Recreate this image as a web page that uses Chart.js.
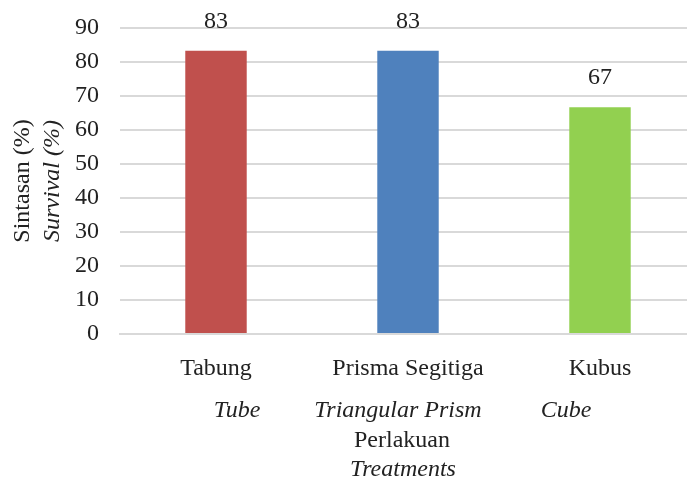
<!DOCTYPE html>
<html>
<head>
<meta charset="utf-8">
<script src="https://cdn.jsdelivr.net/npm/chart.js@4"></script>
<style>
  html, body { margin: 0; padding: 0; background: #fff; overflow: hidden; }
  #wrap { width: 687px; height: 481px; overflow: hidden; }
</style>
</head>
<body>
<div id="wrap"><canvas id="survChart" width="697" height="481"></canvas></div>
<script>
// data
var categories = ["Tabung", "Prisma Segitiga", "Kubus"];
var categoriesEn = ["Tube", "Triangular Prism", "Cube"];
var survival = [83.33, 83.33, 66.67];
var barColors = ["#C0504D", "#4F81BD", "#92D050"];
var yTicks = [0, 10, 20, 30, 40, 50, 60, 70, 80, 90];

var serif = "'Liberation Serif', 'Times New Roman', serif";
var ink = "#222222";
var fs = 24;

// extra texts: value labels, english category names, axis titles
var textPlugin = {
	id: 'texts',
	afterDraw: function (chart) {
		var ctx = chart.ctx;
		var xs = chart.scales.x;
		var area = chart.chartArea;
		ctx.save();
		ctx.fillStyle = ink;
		ctx.textAlign = 'center';
		ctx.textBaseline = 'alphabetic';

		// value labels above bars
		ctx.font = fs + "px " + serif;
		chart.getDatasetMeta(0).data.forEach(function (bar, i) {
			ctx.fillText(Math.round(survival[i]), bar.x, bar.y - 23);
		});

		// english category names, a bit shifted as in the original
		var shift = [21, -10, -34];
		ctx.font = "italic " + fs + "px " + serif;
		categoriesEn.forEach(function (t, i) {
			ctx.fillText(t, xs.getPixelForValue(i) + shift[i], 417);
		});

		// x axis title
		ctx.font = fs + "px " + serif;
		ctx.fillText("Perlakuan", 402, 447);
		ctx.font = "italic " + fs + "px " + serif;
		ctx.fillText("Treatments", 403, 476);

		// y axis title, two lines
		var midY = (area.top + area.bottom) / 2;
		ctx.translate(23, midY);
		ctx.rotate(-Math.PI / 2);
		ctx.textBaseline = 'middle';
		ctx.font = fs + "px " + serif;
		ctx.fillText("Sintasan (%)", 0, 0);
		ctx.font = "italic " + fs + "px " + serif;
		ctx.fillText("Survival (%)", 0, 30);
		ctx.restore();
	}
};

var chart = new Chart(document.getElementById("survChart"), {
	type: 'bar',
	data: {
		labels: categories,
		datasets: [{
			data: survival,
			backgroundColor: barColors,
			barPercentage: 0.64,
			categoryPercentage: 0.5
		}]
	},
	options: {
		responsive: false,
		animation: false,
		layout: { padding: { top: 28, right: 1, left: 0, bottom: 0 } },
		plugins: {
			legend: { display: false },
			tooltip: { enabled: false }
		},
		scales: {
			x: {
				grid: { display: false },
				border: { color: "#D9D9D9", width: 2 },
				ticks: {
					color: ink,
					font: { family: serif, size: fs },
					padding: 12,
					maxRotation: 0,
					autoSkip: false
				},
				afterFit: function (s) { s.height = 147; }
			},
			y: {
				min: 0,
				max: 90,
				afterBuildTicks: function (s) {
					s.ticks = yTicks.map(function (v) { return { value: v }; });
				},
				grid: { color: "#D9D9D9", lineWidth: 2, drawTicks: false },
				border: { display: false },
				ticks: {
					color: ink,
					font: { family: serif, size: fs },
					padding: 21
				},
				afterFit: function (s) {
					s.width = 120;
					s.paddingTop = 0;
					s.paddingBottom = 0;
				}
			}
		}
	},
	plugins: [textPlugin]
});
</script>
</body>
</html>
